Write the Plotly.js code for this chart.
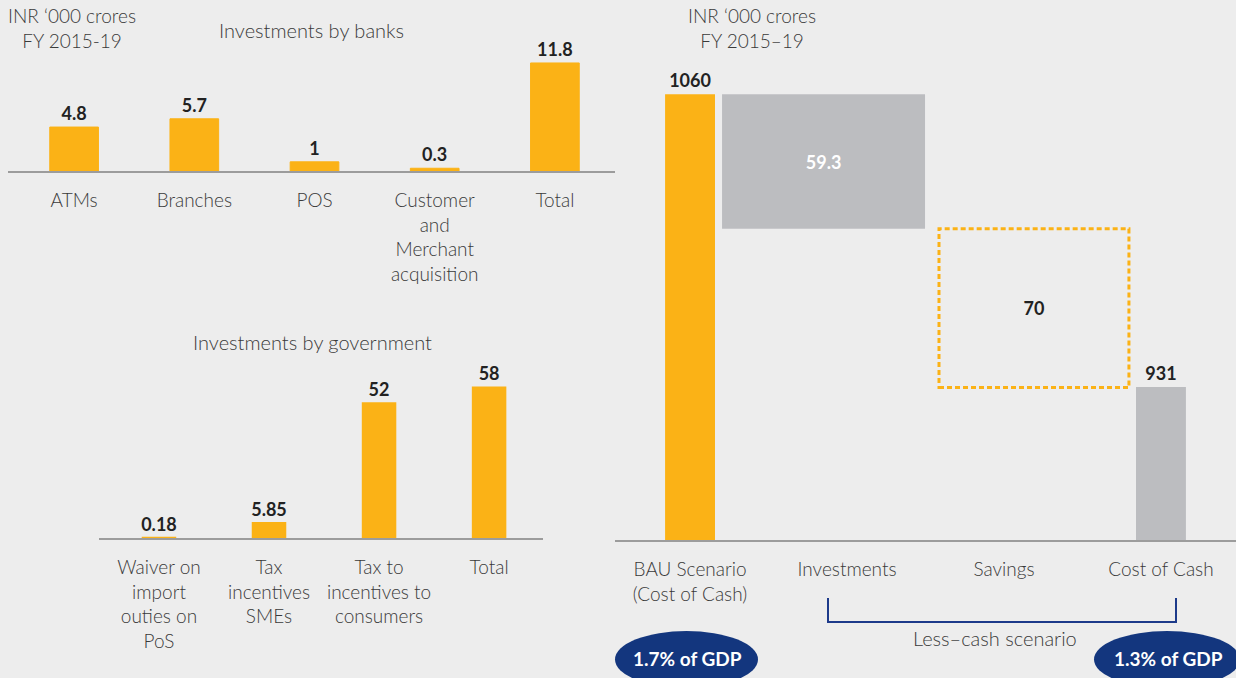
<!DOCTYPE html>
<html>
<head>
<meta charset="utf-8">
<script src="https://cdn.plot.ly/plotly-3.0.1.min.js"></script>
<style>
  html, body { margin: 0; padding: 0; background: #ededed; }
  #chart { width: 1236px; height: 678px; }
</style>
</head>
<body>
<div id="chart"></div>
<script>
// ---------- DATA ----------
const bankCategories = ['ATMs', 'Branches', 'POS', 'Customer<br>and<br>Merchant<br>acquisition', 'Total'];
const bankValues = [4.8, 5.7, 1, 0.3, 11.8];
const bankLabels = ['4.8', '5.7', '1', '0.3', '11.8'];

const govCategories = ['Waiver on<br>import<br>outies on<br>PoS', 'Tax<br>incentives<br>SMEs', 'Tax to<br>incentives to<br>consumers', 'Total'];
const govValues = [0.18, 5.85, 52, 58];
const govLabels = ['0.18', '5.85', '52', '58'];

const cashCategories = ['BAU Scenario<br>(Cost of Cash)', 'Investments', 'Savings', 'Cost of Cash'];
const bauValue = 1060;
const investmentValue = 59.3;
const savingsValue = 70;
const costOfCashValue = 931;

// ---------- STYLE ----------
const W = 1236, H = 678;
const BG = '#ededed';
const ORANGE = '#fbb216';
const GREY = '#bcbdc0';
const NAVY = '#13367e';
const TEXT = '#3a3a3a';
const DARK = '#222222';
const AXIS = '#9c9c9c';
const FONT = 'Lato, "Open Sans", sans-serif';

const px = x => x / W;
const py = y => 1 - y / H;

// waterfall derived values
const investBase = bauValue - investmentValue;
const savingsBase = investBase - savingsValue;

const xIdx = cashCategories.map((_, i) => i);

const traces = [
  {
    type: 'bar', x: bankCategories, y: bankValues, xaxis: 'x', yaxis: 'y',
    marker: { color: ORANGE, line: { color: ORANGE, width: 1 } }, width: 0.405,
    text: bankLabels, textposition: 'outside', constraintext: 'none', cliponaxis: false,
    textfont: { family: FONT, size: 18, weight: 700, color: DARK },
    hoverinfo: 'x+y'
  },
  {
    type: 'bar', x: govCategories, y: govValues, xaxis: 'x2', yaxis: 'y2',
    marker: { color: ORANGE, line: { color: ORANGE, width: 1.5 } }, width: 0.3,
    text: govLabels, textposition: 'outside', constraintext: 'none', cliponaxis: false,
    textfont: { family: FONT, size: 18, weight: 700, color: DARK },
    hoverinfo: 'x+y'
  },
  {
    type: 'bar', x: [xIdx[0]], y: [bauValue], xaxis: 'x3', yaxis: 'y3',
    marker: { color: ORANGE }, width: 0.318,
    text: [String(bauValue)], textposition: 'outside', constraintext: 'none',
    textfont: { family: FONT, size: 18, weight: 700, color: DARK }
  },
  {
    type: 'bar', x: [xIdx[1]], y: [investmentValue], base: [investBase], xaxis: 'x3', yaxis: 'y3',
    marker: { color: GREY }, width: 1.293, offset: -0.796,
    text: [String(investmentValue)], textposition: 'inside', insidetextanchor: 'middle', constraintext: 'none',
    textfont: { family: FONT, size: 18, weight: 700, color: '#ffffff' }
  },
  {
    type: 'bar', x: [xIdx[2]], y: [savingsValue], base: [savingsBase], xaxis: 'x3', yaxis: 'y3',
    marker: { color: 'rgba(0,0,0,0)' }, width: 1.21, offset: -0.414,
    text: [String(savingsValue)], textposition: 'inside', insidetextanchor: 'middle', constraintext: 'none',
    textfont: { family: FONT, size: 18, weight: 700, color: DARK }
  },
  {
    type: 'bar', x: [xIdx[3]], y: [costOfCashValue], xaxis: 'x3', yaxis: 'y3',
    marker: { color: GREY }, width: 0.318,
    text: [String(costOfCashValue)], textposition: 'outside', constraintext: 'none',
    textfont: { family: FONT, size: 18, weight: 700, color: DARK }
  }
];

const xCommon = {
  showgrid: false, zeroline: false, showline: true, linecolor: AXIS, linewidth: 2,
  ticks: '', ticklabelstandoff: 11, fixedrange: true,
  tickfont: { family: FONT, size: 19, weight: 300, color: TEXT }
};
const yCommon = { visible: false, showgrid: false, zeroline: false, fixedrange: true };

const annFont = { family: FONT, size: 19, weight: 300, color: TEXT };
const titleFont = { family: FONT, size: 20, weight: 300, color: TEXT };

const layout = {
  width: W, height: H,
  margin: { l: 0, r: 0, t: 0, b: 0 },
  paper_bgcolor: BG, plot_bgcolor: BG,
  showlegend: false, barmode: 'overlay',
  font: { family: FONT, color: TEXT },
  xaxis: Object.assign({}, xCommon, { domain: [px(8), px(615)], range: [-0.55, 4.5], anchor: 'y', type: 'category' }),
  yaxis: Object.assign({}, yCommon, { domain: [py(171), py(30)], range: [0, 15.4], anchor: 'x' }),
  xaxis2: Object.assign({}, xCommon, { domain: [px(99), px(543)], range: [-0.545, 3.49], anchor: 'y2', type: 'category' }),
  yaxis2: Object.assign({}, yCommon, { domain: [py(538), py(360)], range: [0, 68.5], anchor: 'x2' }),
  xaxis3: Object.assign({}, xCommon, {
    domain: [px(615), px(1236)], range: [-0.478, 3.478], anchor: 'y3', type: 'linear',
    tickvals: xIdx, ticktext: cashCategories
  }),
  yaxis3: Object.assign({}, yCommon, { domain: [py(540), py(60)], range: [863.5, 1075.1], anchor: 'x3' }),
  shapes: [
    // dashed savings outline, from the same data values
    {
      type: 'rect', xref: 'x3', yref: 'y3', layer: 'above',
      x0: xIdx[2] - 0.414, x1: xIdx[2] - 0.414 + 1.21,
      y0: savingsBase, y1: savingsBase + savingsValue,
      line: { color: ORANGE, width: 3, dash: '5px,3px' }, fillcolor: 'rgba(0,0,0,0)'
    },
    // bracket for less-cash scenario
    {
      type: 'path', xref: 'paper', yref: 'paper',
      path: `M ${px(828)} ${py(598)} L ${px(828)} ${py(622)} L ${px(1176)} ${py(622)} L ${px(1176)} ${py(598)}`,
      line: { color: '#1d3a8a', width: 2 }
    },
    // GDP ellipses
    {
      type: 'circle', xref: 'paper', yref: 'paper',
      x0: px(615), x1: px(758), y0: py(688), y1: py(631),
      fillcolor: NAVY, line: { width: 0 }
    },
    {
      type: 'circle', xref: 'paper', yref: 'paper',
      x0: px(1094), x1: px(1240), y0: py(688), y1: py(631),
      fillcolor: NAVY, line: { width: 0 }
    }
  ],
  annotations: [
    { text: 'INR ‘000 crores<br>FY 2015-19', x: px(72), y: py(28), xref: 'paper', yref: 'paper',
      showarrow: false, font: annFont, xanchor: 'center', yanchor: 'middle', align: 'center' },
    { text: 'Investments by banks', x: px(311), y: py(30), xref: 'paper', yref: 'paper',
      showarrow: false, font: titleFont, xanchor: 'center', yanchor: 'middle' },
    { text: 'Investments by government', x: px(312), y: py(342), xref: 'paper', yref: 'paper',
      showarrow: false, font: titleFont, xanchor: 'center', yanchor: 'middle' },
    { text: 'INR ‘000 crores<br>FY 2015–19', x: px(752), y: py(28), xref: 'paper', yref: 'paper',
      showarrow: false, font: annFont, xanchor: 'center', yanchor: 'middle', align: 'center' },
    { text: 'Less–cash scenario', x: px(995), y: py(638), xref: 'paper', yref: 'paper',
      showarrow: false, font: titleFont, xanchor: 'center', yanchor: 'middle' },
    { text: '1.7% of GDP', x: px(687), y: py(658), xref: 'paper', yref: 'paper',
      showarrow: false, font: { family: FONT, size: 19, weight: 700, color: '#ffffff' }, xanchor: 'center', yanchor: 'middle' },
    { text: '1.3% of GDP', x: px(1168), y: py(658), xref: 'paper', yref: 'paper',
      showarrow: false, font: { family: FONT, size: 19, weight: 700, color: '#ffffff' }, xanchor: 'center', yanchor: 'middle' }
  ]
};

Plotly.newPlot('chart', traces, layout, { displayModeBar: false, staticPlot: true });
</script>
</body>
</html>
